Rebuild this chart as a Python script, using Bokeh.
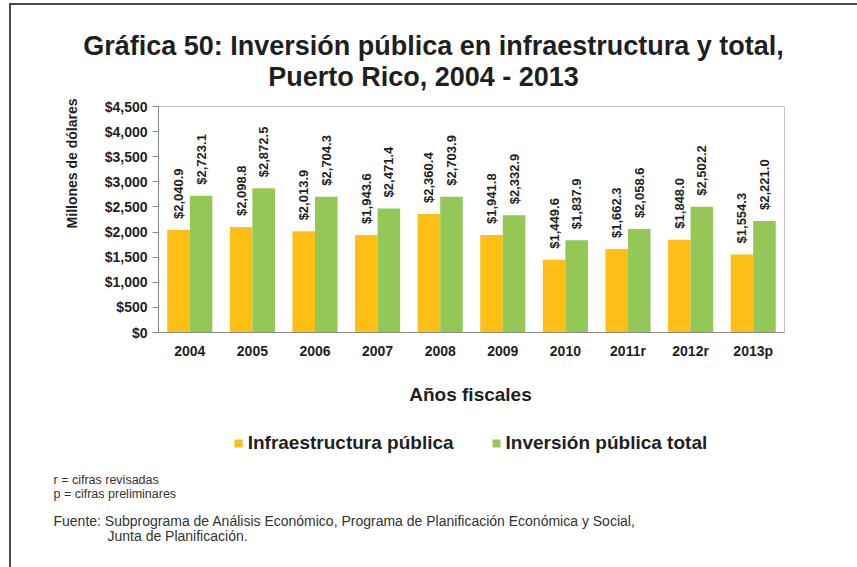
import math
from bokeh.plotting import figure
from bokeh.layouts import column
from bokeh.models import (ColumnDataSource, FactorRange, Range1d, FixedTicker,
                          NumeralTickFormatter, Title, Label, Legend, LegendItem)
from bokeh.transform import dodge
from bokeh.core.properties import value
from bokeh.embed import file_html
from bokeh.resources import INLINE

# ---- data ----
years = ["2004", "2005", "2006", "2007", "2008", "2009", "2010", "2011r", "2012r", "2013p"]
infraestructura = [2040.9, 2098.8, 2013.9, 1943.6, 2360.4, 1941.8, 1449.6, 1662.3, 1848.0, 1554.3]
inversion_total = [2723.1, 2872.5, 2704.3, 2471.4, 2703.9, 2332.9, 1837.9, 2058.6, 2502.2, 2221.0]
y_ticks = [0, 500, 1000, 1500, 2000, 2500, 3000, 3500, 4000, 4500]
series_names = ["Infraestructura pública", "Inversión pública total"]

FONT = "Liberation Sans"
ORANGE = "#FDBE16"
GREEN = "#93C756"
DARK = "#1f1f1f"
NOTE = "#333333"
W = 846
HEAD_H, MAIN_H, FOOT_H = 86, 271, 205


def blank(h):
    f = figure(width=W, height=h, x_range=Range1d(0, W), y_range=Range1d(h, 0),
               x_axis_type=None, y_axis_type=None, output_backend="svg",
               toolbar_location=None, min_border=0, frame_align=False)
    f.xgrid.grid_line_color = None
    f.ygrid.grid_line_color = None
    f.outline_line_color = None
    return f


def label(f, text, x, y, size, bold=True, align="left", color=DARK, baseline="middle"):
    f.add_layout(Label(x=x, y=y, text=text, text_font=FONT, text_font_size=size,
                       text_font_style="bold" if bold else "normal",
                       text_align=align, text_baseline=baseline, text_color=color))


# ---------- header (titles) ----------
head = blank(HEAD_H)
label(head, "Gráfica 50: Inversión pública en infraestructura y total,", 422, 40, "27px",
      align="center")
label(head, "Puerto Rico, 2004 - 2013", 412, 71.5, "27px", align="center")

# ---------- main chart ----------
src = ColumnDataSource(dict(
    years=years,
    infra=infraestructura,
    total=inversion_total,
    infra_lbl=[f"${v:,.1f}" for v in infraestructura],
    total_lbl=[f"${v:,.1f}" for v in inversion_total],
))

p = figure(x_range=FactorRange(factors=years, range_padding=0),
           y_range=Range1d(0, 4500), width=W, height=MAIN_H,
           output_backend="svg", toolbar_location=None, frame_align=False,
           min_border_left=147, min_border_right=73,
           min_border_top=15, min_border_bottom=30)

bw = 0.36
off = 0.18
r1 = p.vbar(x=dodge("years", -off, range=p.x_range), top="infra", width=bw,
            source=src, fill_color=ORANGE, line_color=None)
r2 = p.vbar(x=dodge("years", off, range=p.x_range), top="total", width=bw,
            source=src, fill_color=GREEN, line_color=None)

for col, lbl, dx in (("infra", "infra_lbl", -off), ("total", "total_lbl", off)):
    p.text(x=dodge("years", dx, range=p.x_range), y=col, text=lbl, source=src,
           angle=math.pi / 2, text_align="left", text_baseline="middle",
           y_offset=-11, text_font=value(FONT), text_font_style="bold",
           text_font_size="13px", text_color=DARK)

p.xgrid.grid_line_color = None
p.ygrid.grid_line_color = None
p.outline_line_color = "#c3c3c3"
p.outline_line_width = 1

p.yaxis.ticker = FixedTicker(ticks=y_ticks)
p.yaxis.formatter = NumeralTickFormatter(format="$0,0")
p.yaxis.minor_tick_line_color = None
p.yaxis.major_tick_in = 0
p.yaxis.major_tick_out = 6
p.yaxis.major_label_standoff = 5
for ax in (p.xaxis, p.yaxis):
    ax.axis_line_color = "#8a8a8a"
    ax.major_tick_line_color = "#8a8a8a"
    ax.major_label_text_font = FONT
    ax.major_label_text_font_style = "bold"
    ax.major_label_text_font_size = "14px"
    ax.major_label_text_color = DARK
p.xaxis.major_tick_in = 0
p.xaxis.major_tick_out = 0
p.xaxis.major_label_standoff = 10

p.add_layout(Title(text="Millones de dólares", align="right", offset=-8, standoff=44,
                   text_font=FONT, text_font_size="14px", text_font_style="bold",
                   text_color=DARK), "left")

# ---------- footer ----------
foot = blank(FOOT_H)
label(foot, "Años fiscales", 459, 32, "19px", align="center")

# legend-only renderers (zero-size, nothing visible is drawn)
d1 = foot.vbar(x=[0], top=[0], bottom=[0], width=0, fill_color=ORANGE, line_color=None)
d2 = foot.vbar(x=[0], top=[0], bottom=[0], width=0, fill_color=GREEN, line_color=None)
legend = Legend(items=[LegendItem(label=series_names[0], renderers=[d1]),
                       LegendItem(label=series_names[1], renderers=[d2])],
                orientation="horizontal", location=(221.7, 113),
                glyph_width=10, glyph_height=10, label_standoff=5, spacing=37,
                label_text_font=FONT, label_text_font_style="bold",
                label_text_font_size="19px", label_text_color=DARK,
                padding=0, margin=0, border_line_color=None,
                background_fill_alpha=0)
foot.add_layout(legend, "center")

label(foot, "r = cifras revisadas", 42, 117, "12.5px", bold=False, color=NOTE)
label(foot, "p = cifras preliminares", 42, 131, "12.5px", bold=False, color=NOTE)
label(foot, "Fuente: Subprograma de Análisis Económico, Programa de Planificación Económica y Social,",
      42, 158, "14px", bold=False, color=NOTE)
label(foot, "Junta de Planificación.", 96, 173, "14px", bold=False, color=NOTE)

layout = column(head, p, foot, spacing=0,
                styles={"border-top": "2px solid #4a4a4a",
                        "border-left": "2px solid #4a4a4a",
                        "margin-top": "3px", "margin-left": "9px"})

open("out.html", "w").write(file_html(layout, INLINE))
